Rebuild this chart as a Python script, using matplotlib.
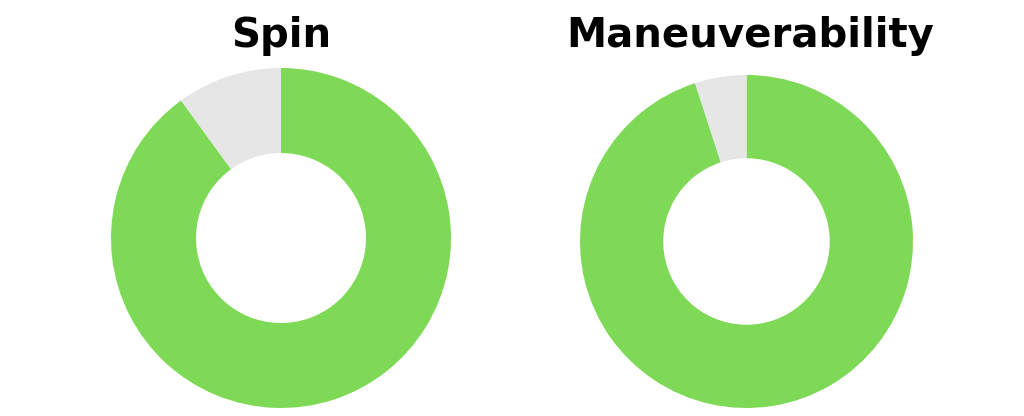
import matplotlib
matplotlib.use("Agg")
import matplotlib.pyplot as plt

titles = ["Spin", "Maneuverability"]
filled = [90, 95]
remaining = [10, 5]

green = "#7ED957"
grey = "#E6E6E6"

fig = plt.figure(figsize=(10.24, 4.16), dpi=100)

# axes boxes in pixels: (left, bottom, size)
boxes = [(111, 8, 340), (580, 8, 333)]
title_x = [281, 750]

for i in range(2):
    l, b, s = boxes[i]
    ax = fig.add_axes([l / 1024, b / 416, s / 1024, s / 416])
    ax.pie([filled[i], remaining[i]], colors=[green, grey], startangle=90,
           counterclock=False, radius=1.0,
           wedgeprops=dict(width=0.5, edgecolor="none", linewidth=0))
    ax.set_xlim(-1, 1)
    ax.set_ylim(-1, 1)
    ax.set_aspect("equal")
    ax.axis("off")
    fig.text(title_x[i] / 1024, (416 - 47) / 416, titles[i], ha="center",
             va="baseline", fontsize=29, fontweight="bold",
             family="DejaVu Sans", color="#000000")

fig.savefig("out.png", dpi=100, facecolor="white")
